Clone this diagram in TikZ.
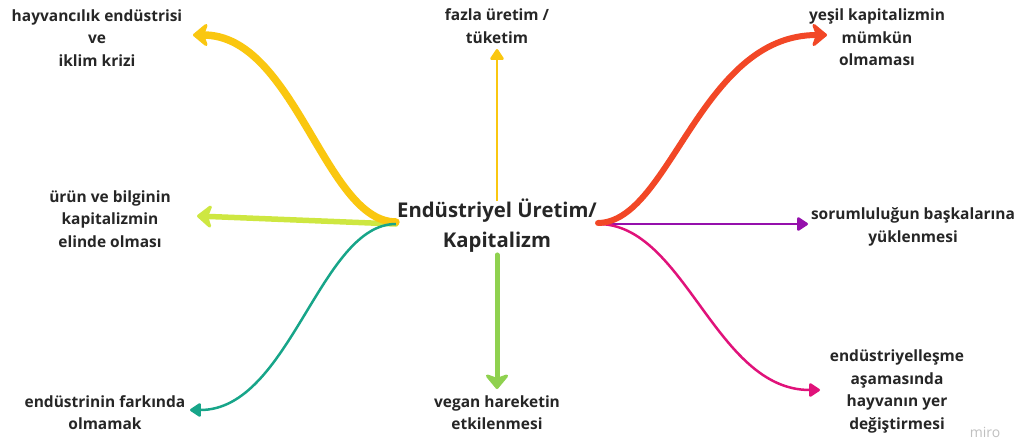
\documentclass[tikz,border=0pt]{standalone}
\usepackage{fontspec}
\setmainfont{Open Sans}
\usepackage{tikz}
\usetikzlibrary{arrows.meta}
\definecolor{txt}{HTML}{262626}
\definecolor{sari}{HTML}{FAC710}
\definecolor{acikyesil}{HTML}{CEE741}
\definecolor{camgobegi}{HTML}{17A589}
\definecolor{yesil}{HTML}{8FD14F}
\definecolor{turuncu}{HTML}{F24726}
\definecolor{mor}{HTML}{9510AC}
\definecolor{pembe}{HTML}{E0127A}

\begin{document}
\begin{tikzpicture}[
  lbl/.style={align=center,text=txt,inner sep=0pt,font=\fontsize{15.5bp}{22.5bp}\selectfont\bfseries},
  big/.style={line width=#1,line cap=round,-{Stealth[round,length=17bp,width=28bp,inset=5bp]}},
  small/.style={line width=2.5bp,-{Triangle[round,length=12bp,width=15bp]}}]

\useasboundingbox (0bp,0bp) rectangle (1024bp,-444bp);

\node (K) at (497bp,-226bp)[align=center,text=txt,inner sep=1bp,font=\fontsize{20.3bp}{30bp}\selectfont\bfseries] {Endüstriyel Üretim/\\Kapitalizm};

\node (HE) at (97bp,-38bp)[lbl] {hayvancılık endüstrisi\\ve\\iklim krizi};
\node (FU) at (497bp,-26bp)[lbl] {fazla üretim /\\tüketim};
\node (UB) at (110bp,-219bp)[lbl] {ürün ve bilginin\\kapitalizmin\\elinde olması};
\node (EF) at (105bp,-412.5bp)[lbl] {endüstrinin farkında\\olmamak};
\node (VH) at (497bp,-412.5bp)[lbl] {vegan hareketin\\etkilenmesi};
\node (YK) at (877bp,-37.5bp)[lbl] {yeşil kapitalizmin\\mümkün\\olmaması};
\node (SB) at (913bp,-227bp)[lbl] {sorumluluğun başkalarına\\yüklenmesi};
\node (EA) at (897bp,-391.5bp)[lbl] {endüstriyelleşme\\aşamasında\\hayvanın yer\\değiştirmesi};
\node (M) at (985bp,-432bp)[text=black!25,font=\fontsize{14bp}{15bp}\selectfont] {miro};

\coordinate (tHE) at (193bp,-35bp);
\coordinate (tFU) at (497bp,-49bp);
\coordinate (tUB) at (197bp,-216bp);
\coordinate (tEF) at (190bp,-410bp);
\coordinate (tVH) at (497bp,-389bp);
\coordinate (tYK) at (827bp,-35bp);
\coordinate (tSB) at (808bp,-224bp);
\coordinate (tEA) at (820bp,-390bp);

% sol taraf
\draw [big=5.5bp,acikyesil] ([yshift=2bp]K.west) -- (tUB);
\draw [big=7.5bp,sari] ([yshift=4bp]K.west) .. controls (325bp,-222bp) and (295bp,-35bp) .. (tHE);
\draw [small,camgobegi] ([yshift=2bp]K.west) .. controls (320bp,-224bp) and (290bp,-410bp) .. (tEF);
% dikey
\draw [small,sari] ([yshift=-3bp]K.north) -- (tFU);
\draw [big=5bp,yesil] ([yshift=-1bp]K.south) -- (tVH);
% sag taraf
\draw [small,mor] ([yshift=2bp]K.east) -- (tSB);
\draw [small,pembe] ([yshift=2bp]K.east) .. controls (685bp,-224bp) and (715bp,-390bp) .. (tEA);
\draw [big=6bp,turuncu] ([yshift=3bp]K.east) .. controls (670bp,-222bp) and (700bp,-35bp) .. (tYK);
\end{tikzpicture}
\end{document}
